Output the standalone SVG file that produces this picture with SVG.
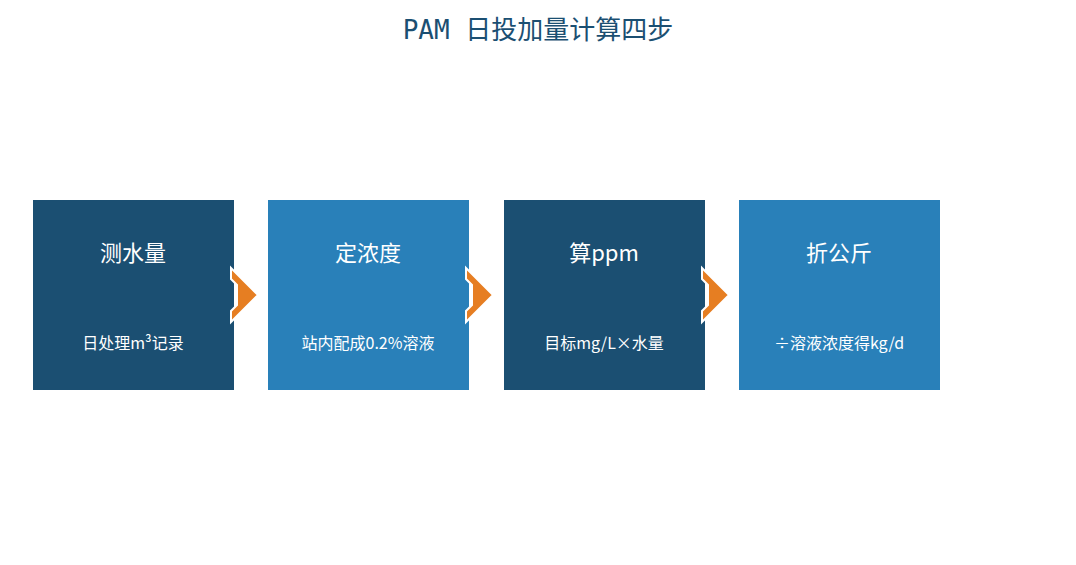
<svg xmlns="http://www.w3.org/2000/svg" width="1076" height="565" viewBox="0 0 1076 565">
<style>
.t{font-family:"DejaVu Sans Mono","Noto Sans CJK SC",monospace;font-size:26px;fill:#1b4f72;text-anchor:middle}
.h{font-family:"Noto Sans CJK SC",sans-serif;font-size:22px;fill:#fff;text-anchor:middle}
.s{font-family:"Noto Sans CJK SC",sans-serif;font-size:16px;fill:#fff;text-anchor:middle}
.d{fill:#1b4f72}.l{fill:#2980b9}
.a{fill:#e67e22;stroke:#fff;stroke-width:2}
</style>
<rect width="1076" height="565" fill="#fff"/>
<text class="t" x="538" y="39">PAM 日投加量计算四步</text>
<g id="n1"><rect class="d" x="33" y="200" width="201" height="190"/><text class="h" x="133" y="261">测水量</text><text class="s" x="133" y="349">日处理m³记录</text></g>
<g id="n2"><rect class="l" x="268" y="200" width="201" height="190"/><text class="h" x="368" y="261">定浓度</text><text class="s" x="368" y="349">站内配成0.2%溶液</text></g>
<g id="n3"><rect class="d" x="504" y="200" width="201" height="190"/><text class="h" x="604" y="261">算ppm</text><text class="s" x="604" y="349">目标mg/L×水量</text></g>
<g id="n4"><rect class="l" x="739" y="200" width="201" height="190"/><text class="h" x="839" y="261">折公斤</text><text class="s" x="839" y="349">÷溶液浓度得kg/d</text></g>
<g id="connectors">
<polygon class="a" points="231,268 258,295 231,322 231,311 237,305 237,285 231,279"/>
<polygon class="a" points="466,268 493,295 466,322 466,311 472,305 472,285 466,279"/>
<polygon class="a" points="702,268 729,295 702,322 702,311 708,305 708,285 702,279"/>
</g>
</svg>
